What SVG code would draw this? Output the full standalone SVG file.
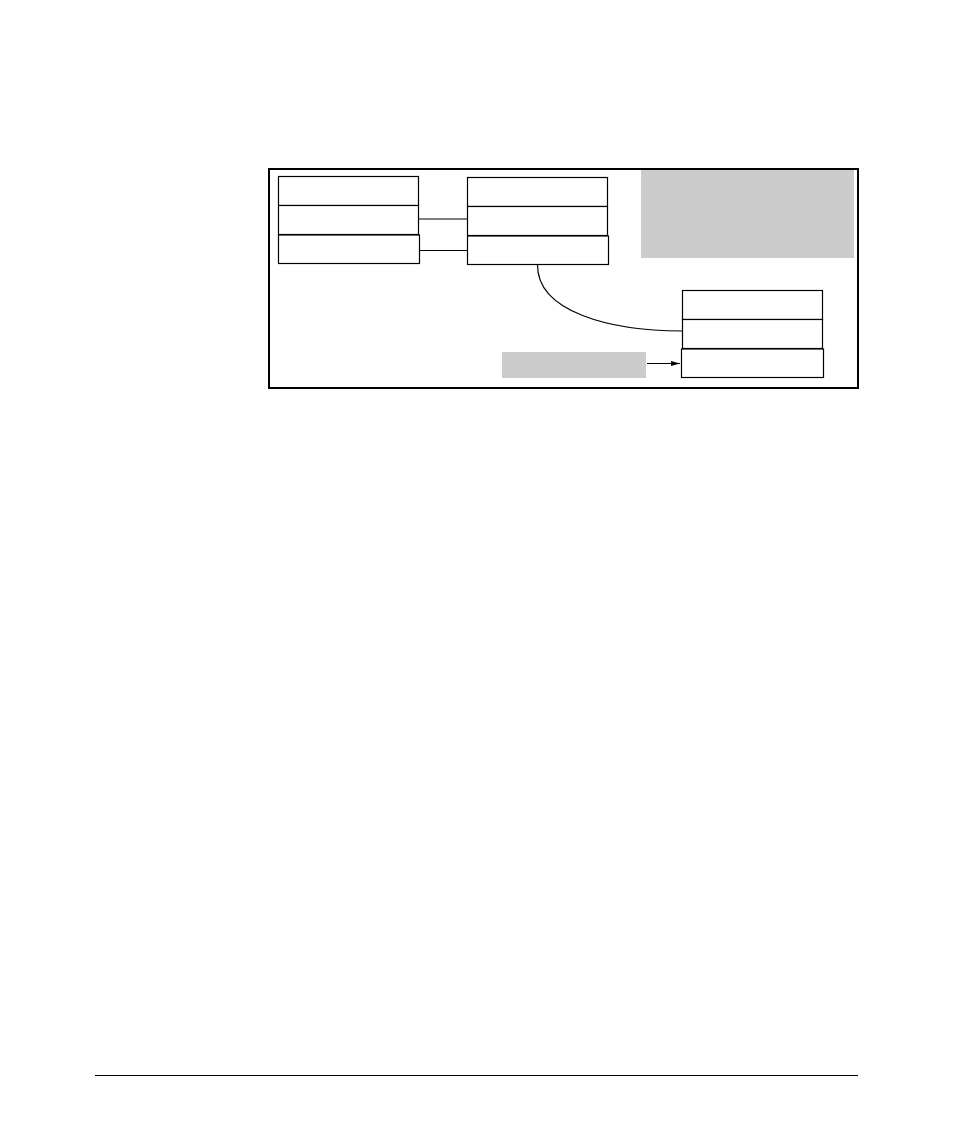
<svg xmlns="http://www.w3.org/2000/svg" width="954" height="1145" viewBox="0 0 954 1145">
<defs>
<style>
.box{fill:#fff;stroke:#000;stroke-width:1.2}
.gray{fill:#cccccc;stroke:none}
.conn{fill:none;stroke:#000;stroke-width:1.2}
</style>
<marker id="ah" markerWidth="10" markerHeight="8" refX="9" refY="4" orient="auto" markerUnits="userSpaceOnUse">
<path d="M0,1.5 L9,4 L0,6.5 z" fill="#000"/>
</marker>
</defs>
<rect width="954" height="1145" fill="#fff"/>
<rect id="frame" x="269" y="169" width="589" height="219" fill="none" stroke="#000" stroke-width="2"/>
<g id="note-top" ><rect class="gray" x="641" y="170" width="213" height="88"/></g>
<g id="left-stack">
<rect class="box" x="278.5" y="176.5" width="140" height="29"/>
<rect class="box" x="278.5" y="205.5" width="140" height="29"/>
<rect class="box" x="278.5" y="235" width="141" height="28.5"/>
</g>
<g id="mid-stack">
<rect class="box" x="467.5" y="177.5" width="140" height="29"/>
<rect class="box" x="467.5" y="206.5" width="140" height="29"/>
<rect class="box" x="467.5" y="236" width="141" height="28.5"/>
</g>
<g id="right-stack">
<rect class="box" x="682.5" y="290.5" width="140" height="29"/>
<rect class="box" x="682.5" y="319.5" width="140" height="29"/>
<rect class="box" x="681.5" y="349" width="142" height="28.5"/>
</g>
<g id="note-bottom"><rect class="gray" x="502" y="352" width="144" height="26"/></g>
<g id="connectors">
<line class="conn" x1="418.5" y1="219" x2="467.5" y2="219"/>
<line class="conn" x1="419.5" y1="250.5" x2="467.5" y2="250.5"/>
<path class="conn" d="M537.5,264.5 C537,312 610,331 682.5,331"/>
<line class="conn" x1="647" y1="363.5" x2="680" y2="363.5" marker-end="url(#ah)"/>
</g>
<line x1="95" y1="1075.5" x2="858" y2="1075.5" stroke="#000" stroke-width="1.2"/>
</svg>
